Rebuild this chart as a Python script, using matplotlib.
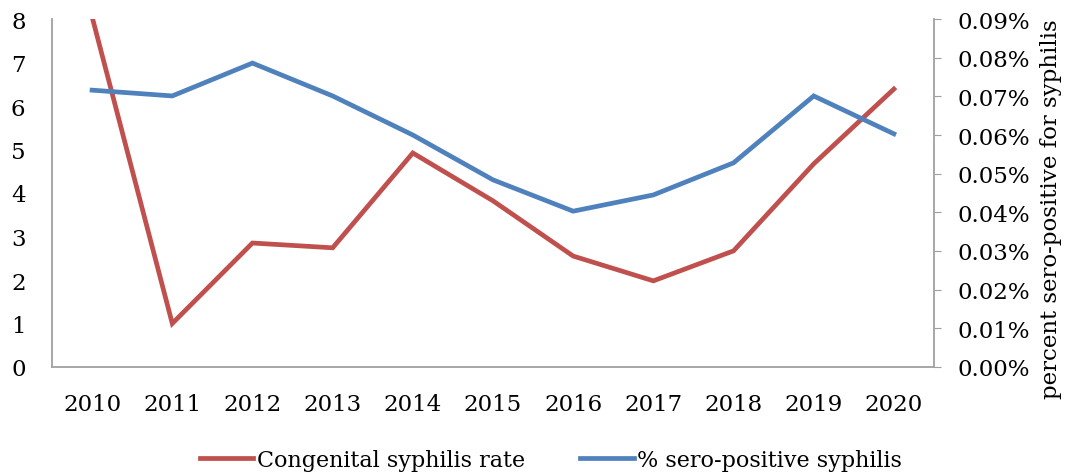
import matplotlib
matplotlib.use("Agg")
import matplotlib.pyplot as plt
from matplotlib.ticker import FuncFormatter

years = ["2010", "2011", "2012", "2013", "2014", "2015", "2016", "2017", "2018", "2019", "2020"]
congenital_rate = [8.05, 1.0, 2.85, 2.74, 4.92, 3.82, 2.55, 1.98, 2.67, 4.67, 6.39]
sero_positive = [0.0716, 0.0701, 0.0786, 0.0701, 0.0600, 0.0484, 0.0403, 0.0445, 0.0528, 0.0701, 0.0603]

red = "#C0504D"
blue = "#4F81BD"
grey = "#A0A0A0"

plt.rcParams["font.family"] = ["DejaVu Serif"]

fig = plt.figure(figsize=(10.73, 4.77), dpi=100)
ax1 = fig.add_axes([52 / 1073, 109 / 477, 882 / 1073, 348 / 477])
ax2 = ax1.twinx()

x = list(range(len(years)))
l1, = ax1.plot(x, congenital_rate, color=red, lw=3.4, solid_joinstyle="miter",
               label="Congenital syphilis rate")
l2, = ax2.plot(x, sero_positive, color=blue, lw=3.4, solid_joinstyle="miter",
               label="% sero-positive syphilis")

ax1.set_xlim(-0.5, 10.5)
ax1.set_ylim(0, 8)
ax1.set_yticks(range(0, 9))
ax1.set_xticks(x)
ax1.set_xticklabels(years)
ax2.set_ylim(0, 0.09)
ax2.set_yticks([i * 0.01 for i in range(10)])
ax2.yaxis.set_major_formatter(FuncFormatter(lambda v, p: f"{v:.2f}%"))
ax2.set_ylabel("percent sero-positive for syphilis", fontsize=16.5, labelpad=7)
ax2.yaxis.label.set_y(0.455)

for ax in (ax1, ax2):
    for s in ax.spines.values():
        s.set_visible(False)
ax1.spines["left"].set_visible(True)
ax1.spines["bottom"].set_visible(True)
ax2.spines["right"].set_visible(True)
for s in (ax1.spines["left"], ax1.spines["bottom"], ax2.spines["right"]):
    s.set_color(grey)
    s.set_linewidth(1.3)

ax1.tick_params(axis="y", length=0, labelsize=16.5, pad=19)
ax1.tick_params(axis="x", length=0, labelsize=16.5, pad=19)
ax2.tick_params(axis="y", length=5, color=grey, labelsize=16.5, pad=12)

fig.legend(handles=[l1, l2], loc="center", bbox_to_anchor=(551 / 1073, 1 - 461 / 477),
           ncol=2, frameon=False, fontsize=16, handlelength=2.4, columnspacing=2.5,
           handletextpad=0.15)

fig.savefig("out.png", dpi=100)
